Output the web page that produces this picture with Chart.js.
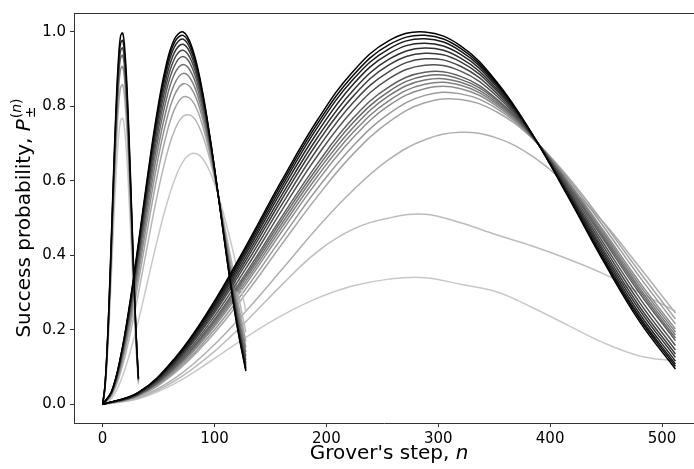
<!DOCTYPE html>
<html lang="en">
<head>
<meta charset="UTF-8">
<title>Grover success probability</title>
<script src="https://cdn.jsdelivr.net/npm/chart.js@4.4.1/dist/chart.umd.min.js"></script>
<style>
  body { margin: 0; background: #fff; }
  canvas { display: block; }
</style>
</head>
<body>
<canvas id="chart" width="694" height="469"></canvas>
<script>
// Grover steps for the three search sizes
const steps32 = [0, 2, 4, 6, 8, 10, 12, 14, 16, 18, 20, 22, 24, 26, 28, 30, 32];
const steps128 = [0, 8, 16, 24, 32, 40, 48, 56, 64, 72, 80, 88, 96, 104, 112, 120, 128];
const steps512 = [0, 32, 64, 96, 128, 160, 192, 224, 256, 288, 320, 352, 384, 416, 448, 480, 512];

// success probabilities, lightest curve first, black (noiseless) last
const prob32 = [
  [0, .037, .116, .227, .359, .494, .614, .708, .761, .767, .726, .643, .527, .395, .261, .143, .054],
  [0, .041, .129, .254, .401, .551, .686, .790, .850, .857, .811, .718, .589, .441, .292, .160, .060],
  [0, .044, .137, .268, .424, .583, .726, .836, .899, .906, .858, .760, .623, .467, .308, .169, .064],
  [0, .045, .141, .277, .438, .603, .750, .864, .929, .936, .886, .785, .644, .482, .319, .175, .066],
  [0, .046, .144, .283, .447, .615, .766, .882, .948, .956, .905, .802, .658, .492, .325, .179, .067],
  [0, .047, .147, .289, .457, .628, .782, .901, .968, .976, .924, .818, .671, .503, .332, .182, .069],
  [0, .048, .150, .295, .466, .641, .798, .919, .988, .996, .943, .835, .685, .513, .339, .186, .070]
];

const prob128 = [
  [0, .016, .062, .134, .225, .327, .430, .524, .600, .652, .673, .664, .623, .555, .466, .366, .250],
  [0, .023, .085, .180, .298, .426, .549, .655, .733, .773, .773, .732, .655, .552, .433, .312, .194],
  [0, .025, .095, .200, .329, .468, .601, .712, .790, .825, .815, .761, .669, .551, .419, .289, .169],
  [0, .027, .101, .213, .350, .496, .635, .749, .828, .860, .844, .781, .679, .550, .409, .274, .153],
  [0, .029, .106, .224, .367, .519, .662, .779, .858, .888, .866, .796, .686, .549, .402, .262, .140],
  [0, .030, .111, .233, .381, .538, .686, .806, .885, .912, .886, .810, .693, .549, .395, .251, .129],
  [0, .031, .115, .241, .394, .555, .706, .828, .907, .933, .903, .822, .698, .548, .389, .242, .119],
  [0, .032, .118, .247, .404, .569, .723, .847, .926, .950, .917, .832, .703, .548, .384, .234, .111],
  [0, .033, .121, .253, .413, .582, .739, .864, .943, .966, .930, .840, .707, .547, .380, .227, .104],
  [0, .034, .124, .258, .422, .593, .752, .879, .958, .980, .941, .848, .711, .547, .376, .221, .097],
  [0, .034, .126, .262, .428, .602, .763, .890, .970, .990, .950, .854, .714, .547, .373, .216, .093],
  [0, .035, .127, .266, .433, .609, .771, .900, .979, .999, .957, .859, .716, .547, .371, .213, .089]
];

const prob512 = [
  [0, .015, .055, .115, .180, .238, .285, .318, .336, .340, .322, .302, .260, .212, .165, .130, .116],
  [0, .017, .062, .132, .222, .320, .410, .470, .500, .510, .487, .455, .425, .390, .350, .300, .250],
  [0, .019, .069, .149, .250, .361, .474, .575, .657, .710, .730, .715, .666, .587, .487, .368, .245],
  [0, .022, .083, .178, .297, .429, .558, .672, .758, .809, .818, .785, .714, .610, .486, .355, .229],
  [0, .023, .087, .186, .310, .446, .579, .694, .780, .829, .833, .794, .715, .605, .476, .342, .216],
  [0, .024, .091, .194, .322, .463, .599, .716, .802, .847, .847, .801, .716, .599, .465, .328, .202],
  [0, .025, .094, .199, .330, .474, .612, .730, .815, .859, .856, .806, .717, .596, .459, .320, .194],
  [0, .025, .096, .204, .338, .484, .624, .743, .828, .870, .864, .811, .718, .593, .453, .312, .186],
  [0, .026, .098, .208, .345, .494, .635, .756, .840, .881, .872, .816, .719, .590, .447, .305, .178],
  [0, .026, .100, .212, .352, .503, .646, .768, .852, .891, .880, .820, .719, .587, .441, .298, .171],
  [0, .027, .104, .220, .364, .520, .667, .790, .874, .910, .894, .828, .720, .582, .431, .285, .158],
  [0, .028, .107, .228, .376, .535, .685, .810, .893, .927, .907, .835, .721, .577, .422, .273, .146],
  [0, .029, .110, .234, .386, .549, .702, .827, .911, .942, .919, .842, .722, .573, .413, .262, .135],
  [0, .030, .113, .240, .395, .561, .716, .843, .926, .956, .929, .847, .723, .569, .406, .253, .126],
  [0, .030, .116, .245, .404, .573, .730, .859, .941, .969, .939, .853, .723, .566, .399, .243, .116],
  [0, .031, .118, .250, .411, .583, .743, .872, .954, .981, .948, .858, .724, .562, .392, .235, .108],
  [0, .032, .120, .254, .418, .592, .753, .883, .965, .990, .955, .862, .725, .560, .387, .229, .102],
  [0, .032, .122, .258, .424, .600, .763, .894, .976, .999, .962, .866, .725, .557, .382, .222, .095]
];

const xTicks = [0, 100, 200, 300, 400, 500];
const yTicks = [0, 0.2, 0.4, 0.6, 0.8, 1.0];

const FONT = '"DejaVu Sans", sans-serif';
const datasets = [];

function addFamily(steps, rows) {
  rows.forEach((vals, i) => {
    const g = Math.round(200 * (1 - i / (rows.length - 1)));
    datasets.push({
      data: steps.map((s, j) => ({ x: s, y: vals[j] })),
      borderColor: `rgb(${g},${g},${g})`,
      borderWidth: 1.5,
      pointRadius: 0,
      fill: false,
      tension: 0.4,
      order: rows.length - i
    });
  });
}

addFamily(steps512, prob512);
addFamily(steps128, prob128);
addFamily(steps32, prob32);

// white background, top spine and the two axis titles (with math-style P)
const decorations = {
  id: 'decorations',
  beforeDraw(chart) {
    const ctx = chart.ctx;
    ctx.save();
    ctx.fillStyle = '#fff';
    ctx.fillRect(0, 0, chart.width, chart.height);
    ctx.restore();
  },
  afterDraw(chart) {
    const { ctx, chartArea: a, scales } = chart;
    ctx.save();
    ctx.strokeStyle = '#333';
    ctx.lineWidth = 1;
    ctx.beginPath();
    ctx.moveTo(a.left, a.top + 0.5);
    ctx.lineTo(a.right, a.top + 0.5);
    ctx.stroke();

    ctx.fillStyle = '#000';
    ctx.textBaseline = 'alphabetic';
    ctx.textAlign = 'left';

    // x title
    const xa = "Grover's step, ";
    ctx.font = '20px ' + FONT;
    const wa = ctx.measureText(xa).width;
    ctx.font = 'italic 20px ' + FONT;
    const wn = ctx.measureText('n').width;
    const cx = scales.x.getPixelForValue(256);
    const x0 = cx - (wa + wn) / 2;
    ctx.font = '20px ' + FONT;
    ctx.fillText(xa, x0, 459);
    ctx.font = 'italic 20px ' + FONT;
    ctx.fillText('n', x0 + wa, 459);

    // y title
    const ya = 'Success probability, ';
    ctx.font = '20px ' + FONT;
    const w1 = ctx.measureText(ya).width;
    ctx.font = 'italic 20px ' + FONT;
    const wP = ctx.measureText('P').width;
    ctx.font = '14px ' + FONT;
    const wpar = ctx.measureText('(').width;
    const wpm = ctx.measureText('±').width;
    ctx.font = 'italic 14px ' + FONT;
    const wsn = ctx.measureText('n').width;
    const wsup = wpar * 2 + wsn;
    const total = w1 + wP + Math.max(wsup, wpm) + 1;
    const cy = (a.top + a.bottom) / 2;
    ctx.translate(30, cy);
    ctx.rotate(-Math.PI / 2);
    let p = -total / 2;
    ctx.font = '20px ' + FONT;
    ctx.fillText(ya, p, 0);
    p += w1;
    ctx.font = 'italic 20px ' + FONT;
    ctx.fillText('P', p, 0);
    p += wP + 1;
    ctx.font = '14px ' + FONT;
    ctx.fillText('(', p, -9);
    ctx.font = 'italic 14px ' + FONT;
    ctx.fillText('n', p + wpar, -9);
    ctx.font = '14px ' + FONT;
    ctx.fillText(')', p + wpar + wsn, -9);
    ctx.fillText('±', p, 5);
    ctx.restore();
  }
};

new Chart(document.getElementById('chart'), {
  type: 'line',
  data: { datasets },
  options: {
    responsive: false,
    animation: false,
    devicePixelRatio: 1,
    layout: { padding: { top: 5, right: 0, left: 0, bottom: 0 } },
    plugins: { legend: { display: false }, tooltip: { enabled: false } },
    scales: {
      x: {
        type: 'linear',
        min: -25.6,
        max: 528.6,
        afterFit: s => { s.height = 46; },
        afterBuildTicks: s => { s.ticks = xTicks.map(v => ({ value: v })); },
        grid: { drawOnChartArea: false, drawTicks: true, tickLength: 4, color: '#333' },
        border: { display: true, color: '#333', width: 1 },
        ticks: {
          color: '#000',
          padding: 3,
          maxRotation: 0,
          font: { family: FONT, size: 15 },
          callback: v => String(v)
        }
      },
      y: {
        type: 'linear',
        min: -0.05,
        max: 1.05,
        afterFit: s => { s.width = 74; },
        afterBuildTicks: s => { s.ticks = yTicks.map(v => ({ value: v })); },
        grid: { drawOnChartArea: false, drawTicks: true, tickLength: 4, color: '#333' },
        border: { display: true, color: '#333', width: 1 },
        ticks: {
          color: '#000',
          padding: 4,
          font: { family: FONT, size: 15 },
          callback: v => v.toFixed(1)
        }
      }
    }
  },
  plugins: [decorations]
});
</script>
</body>
</html>
